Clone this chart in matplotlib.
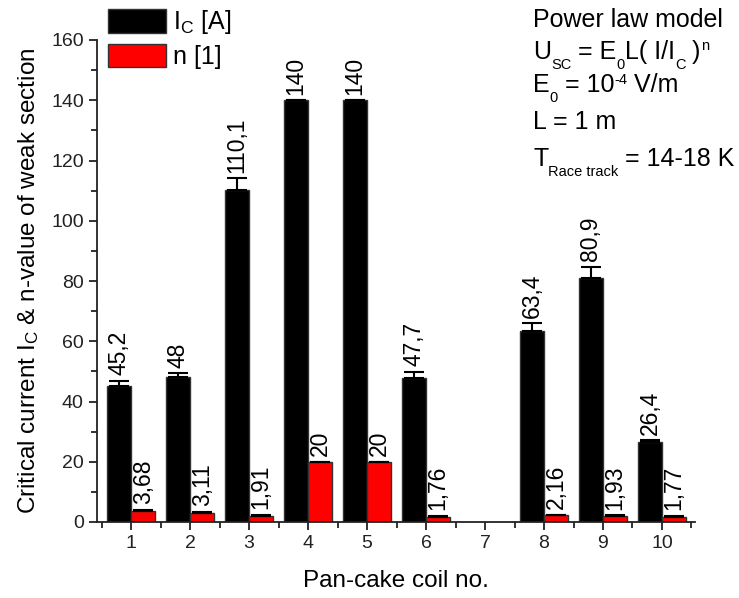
import numpy as np
import matplotlib
matplotlib.use("Agg")
import matplotlib.pyplot as plt
from matplotlib.ticker import MultipleLocator, FixedLocator

plt.rcParams['font.family'] = ['Liberation Sans', 'DejaVu Sans']
plt.rcParams['mathtext.fontset'] = 'custom'
plt.rcParams['mathtext.rm'] = 'Liberation Sans'
plt.rcParams['mathtext.it'] = 'Liberation Sans'

coils = [1, 2, 3, 4, 5, 6, 7, 8, 9, 10]
ic_values = [45.2, 48, 110.1, 140, 140, 47.7, np.nan, 63.4, 80.9, 26.4]
ic_errors = [1.6, 1.4, 4.0, 0.0, 0.0, 2.2, np.nan, 2.5, 3.9, 0.8]
ic_labels = ["45,2", "48", "110,1", "140", "140", "47,7", "", "63,4", "80,9", "26,4"]
n_values = [3.68, 3.11, 1.91, 20, 20, 1.76, np.nan, 2.16, 1.93, 1.77]
n_errors = [0.3, 0.3, 0.4, 0.0, 0.0, 0.3, np.nan, 0.3, 0.3, 0.3]
n_labels = ["3,68", "3,11", "1,91", "20", "20", "1,76", "", "2,16", "1,93", "1,77"]

W, H = 739, 598
fig = plt.figure(figsize=(W / 100, H / 100), dpi=100)
ax = fig.add_axes([97 / W, 76 / H, (695 - 97) / W, (522 - 40) / H])

x = np.array(coils, dtype=float)
w = 0.41
ic = np.array(ic_values)
icerr = np.array(ic_errors)
nv = np.array(n_values)
nerr = np.array(n_errors)

err_style = dict(ecolor='black', capsize=7, elinewidth=1.5, capthick=1.5)
b1 = ax.bar(x - w / 2, ic, width=w, color='black', edgecolor='#333333', linewidth=1,
            yerr=[np.zeros_like(icerr), icerr], error_kw=err_style,
            label='I$_\\mathregular{C}$ [A]')
b2 = ax.bar(x + w / 2, nv, width=w, color='#ff0000', edgecolor='#333333', linewidth=1,
            yerr=[np.zeros_like(nerr), nerr], error_kw=err_style,
            label='n [1]')

for xi, v, e, lab in zip(x, ic, icerr, ic_labels):
    if lab:
        ax.annotate(lab, (xi - w / 2, v + e), xytext=(0, 4), textcoords='offset points',
                    rotation=90, ha='center', va='bottom', fontsize=16.5)
for xi, v, e, lab in zip(x, nv, nerr, n_labels):
    if lab:
        ax.annotate(lab, (xi + w / 2, v + e), xytext=(0, 4), textcoords='offset points',
                    rotation=90, ha='center', va='bottom', fontsize=16.5)

ax.set_xlim(0.42, 10.56)
ax.set_ylim(0, 160)
ax.set_xticks(coils)
ax.set_xticklabels([str(c) for c in coils])
ax.xaxis.set_minor_locator(FixedLocator(np.arange(0.5, 11, 1.0)))
ax.yaxis.set_major_locator(MultipleLocator(20))
ax.yaxis.set_minor_locator(MultipleLocator(10))
ax.spines['top'].set_visible(False)
ax.spines['right'].set_visible(False)
for s in ('left', 'bottom'):
    ax.spines[s].set_linewidth(1.3)
    ax.spines[s].set_color('#222222')
ax.tick_params(which='major', direction='out', length=6, width=1.3, labelsize=14, colors='#222222')
ax.tick_params(which='minor', direction='out', length=4, width=1.3, colors='#222222')

ax.set_xlabel('Pan-cake coil no.', fontsize=17.5, labelpad=13)
ax.set_ylabel('Critical current I$_\\mathregular{C}$ & n-value of weak section', fontsize=17.5, labelpad=7)

fig.legend(handles=[b1, b2], loc='upper left', bbox_to_anchor=(106 / W, 1 - 6 / H), frameon=False,
           fontsize=18, handlelength=2.3, handleheight=1.05, labelspacing=0.3, handletextpad=0.3,
           borderaxespad=0, borderpad=0.1)

# Model description block with small sub/superscripts, laid out piece by piece
renderer = fig.canvas.get_renderer()
MAIN, SMALL = 18, 10.5
SHIFT = {'n': 0.0, 'sub': -10.0, 'sup': 8.5}


def rich_line(x0, baseline, pieces):
    xpos = x0
    for txt, kind in pieces:
        size = MAIN if kind == 'n' else SMALL
        t = fig.text(xpos / W, 1 - (baseline - SHIFT[kind]) / H, txt, fontsize=size,
                     ha='left', va='baseline')
        xpos += t.get_window_extent(renderer).width


model_lines = [
    [('Power law model', 'n')],
    [('U', 'n'), ('SC', 'sub'), (' = E', 'n'), ('0', 'sub'), ('L( I/I', 'n'), ('C', 'sub'),
     (' )', 'n'), ('n', 'sup')],
    [('E', 'n'), ('0', 'sub'), (' = 10', 'n'), ('-4', 'sup'), (' V/m', 'n')],
    [('L = 1 m', 'n')],
    [('T', 'n'), ('Race track', 'sub'), (' = 14-18 K', 'n')],
]
baselines = [27, 59, 92, 129, 166]
for pieces, yb in zip(model_lines, baselines):
    rich_line(533, yb, pieces)

fig.savefig('out.png', dpi=100, facecolor='white')
